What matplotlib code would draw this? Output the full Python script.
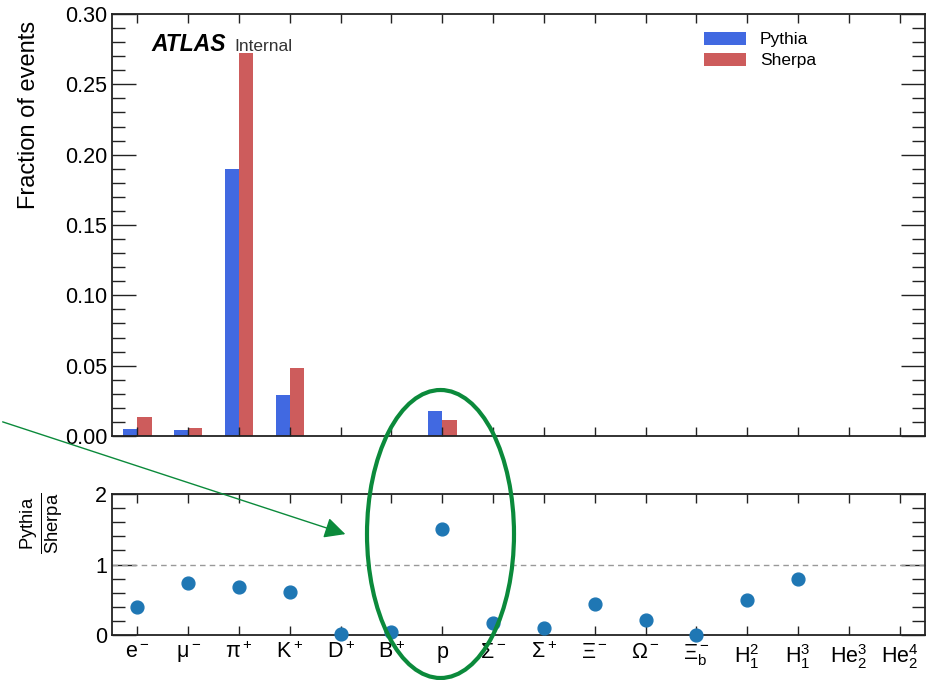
import numpy as np
import matplotlib
matplotlib.use('Agg')
import matplotlib.pyplot as plt
from matplotlib.patches import Ellipse, FancyArrowPatch
from matplotlib.ticker import MultipleLocator

plt.rcParams.update({'font.family': 'Liberation Sans',
                     'mathtext.fontset': 'custom',
                     'mathtext.rm': 'Liberation Sans',
                     'mathtext.it': 'Liberation Sans:italic',
                     'mathtext.bf': 'Liberation Sans:bold'})

# -- Data -------------------------------------------------------------------
particles = [r'e$^-$', r'μ$^-$', r'π$^+$', r'K$^+$',
             r'D$^+$', r'B$^+$', 'p',
             r'Σ$^-$', r'Σ$^+$', r'Ξ$^-$', r'Ω$^-$',
             r'Ξ$_\mathrm{b}^-$', r'H$_1^2$', r'H$_1^3$',
             r'He$_2^3$', r'He$_2^4$']
pythia = [0.0052, 0.0044, 0.190, 0.029, 0.0, 0.0, 0.0176,
          0.0, 0.0, 0.0, 0.0, 0.0, 0.0, 0.0, 0.0, 0.0]
sherpa = [0.0135, 0.0059, 0.272, 0.048, 0.0, 0.0, 0.0116,
          0.0, 0.0, 0.0, 0.0, 0.0, 0.0, 0.0, 0.0, 0.0]
ratio = [0.39, 0.74, 0.685, 0.61, 0.014, 0.04, 1.51,
         0.175, 0.10, 0.435, 0.21, 0.005, 0.49, 0.79, np.nan, np.nan]

x = np.arange(len(particles))
w = 0.28

fig = plt.figure(figsize=(9.36, 6.8), dpi=100)
ax = fig.add_axes([0.1197, 0.3588, 0.8685, 0.6206])
rax = fig.add_axes([0.1197, 0.0662, 0.8685, 0.2073])


def atlas_ticks(a, ymaj, ymin):
    a.yaxis.set_major_locator(MultipleLocator(ymaj))
    a.yaxis.set_minor_locator(MultipleLocator(ymin))
    a.set_xticks(x)
    a.tick_params(axis='both', which='both', direction='in',
                  top=True, right=True, width=1.0, color='#222222')
    a.tick_params(axis='y', which='major', length=17)
    a.tick_params(axis='y', which='minor', length=9.5)
    a.tick_params(axis='x', which='major', length=6.5)
    a.tick_params(axis='x', which='minor', length=0)
    a.tick_params(labelsize=15.5)
    for s in a.spines.values():
        s.set_linewidth(1.3)
        s.set_color('#222222')


# -- Top panel ---------------------------------------------------------------
ax.bar(x - w / 2, pythia, width=w, color='royalblue', label='Pythia')
ax.bar(x + w / 2, sherpa, width=w, color='indianred', label='Sherpa')
ax.set_xlim(-0.5, 15.5)
ax.set_ylim(0, 0.30)
atlas_ticks(ax, 0.05, 0.01)
ax.set_xticklabels([])
ax.yaxis.set_major_formatter(plt.FormatStrFormatter('%.2f'))
ax.set_ylabel('Fraction of events', fontsize=17)
ax.yaxis.set_label_coords(-0.089, 0.76)
ax.legend(loc='upper right', bbox_to_anchor=(0.885, 0.995), frameon=False,
          fontsize=12.5, handlelength=2.4, handleheight=0.8,
          labelspacing=0.3)
ax.text(0.049, 0.912, 'ATLAS', transform=ax.transAxes, fontsize=16.5,
        fontweight='bold', fontstyle='italic', va='baseline')
ax.text(0.150, 0.912, 'Internal', transform=ax.transAxes, fontsize=12.5,
        va='baseline', color='#333333')

# -- Ratio panel -------------------------------------------------------------
rax.axhline(1, color='#999999', ls='--', lw=1.0, dashes=(4, 3))
rax.scatter(x, ratio, s=85, color='#1f77b4', zorder=3, clip_on=False)
rax.set_xlim(-0.5, 15.5)
rax.set_ylim(0, 2)
atlas_ticks(rax, 1, 0.2)
rax.set_xticklabels(particles)
rax.tick_params(axis='x', pad=5)
rax.set_ylabel(r'$\frac{\mathrm{Pythia}}{\mathrm{Sherpa}}$', fontsize=19)
rax.yaxis.set_label_coords(-0.058, 0.79)

# -- Annotation --------------------------------------------------------------
green = '#0B8A3B'
ell = Ellipse((440.5 / 936, 1 - 534 / 680), 147 / 936, 288 / 680,
              transform=fig.transFigure, fill=False, edgecolor=green,
              linewidth=3, zorder=10)
fig.patches.append(ell)
arr = FancyArrowPatch((0.0, 1 - 421 / 680), (348 / 936, 1 - 535 / 680),
                      transform=fig.transFigure, arrowstyle='-|>',
                      mutation_scale=32, color=green, linewidth=1.0)
fig.patches.append(arr)

fig.savefig('out.png', dpi=100)
